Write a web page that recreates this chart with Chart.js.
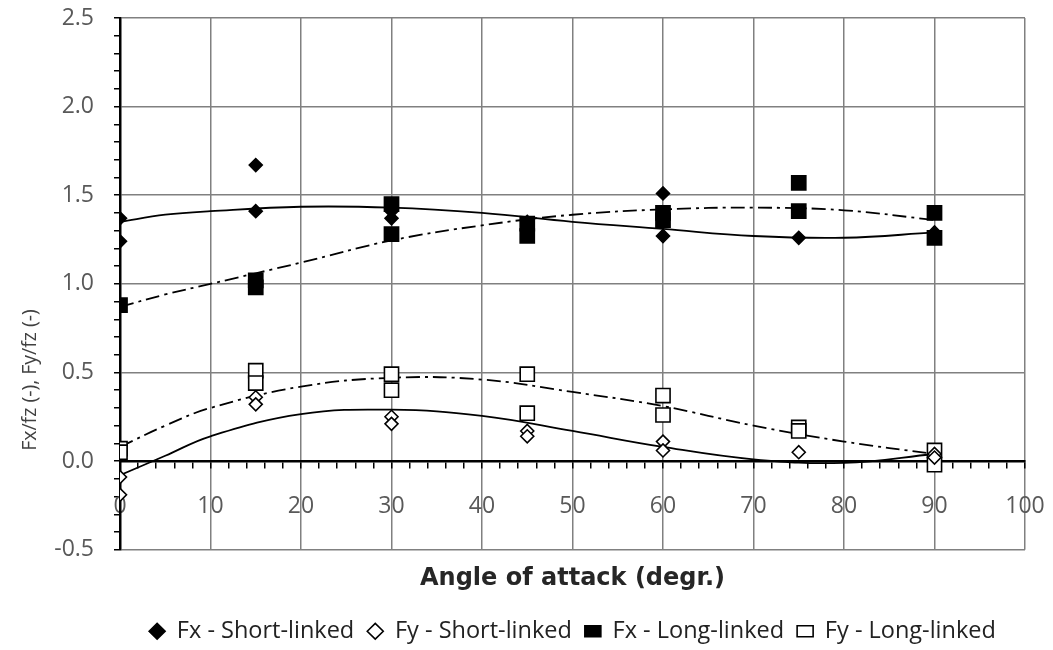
<!DOCTYPE html>
<html>
<head>
<meta charset="utf-8">
<script src="https://cdn.jsdelivr.net/npm/chart.js@4/dist/chart.umd.min.js"></script>
<style>
  html, body { margin: 0; padding: 0; background: #fff; }
  #wrap { width: 1053px; height: 650px; }
</style>
</head>
<body>
<div id="wrap"><canvas id="forceChart" width="1053" height="650"></canvas></div>
<script>
/* ── Measured points (two runs per angle) ── */
const fxShortX = [0, 0, 15, 15, 30, 30, 45, 45, 60, 60, 75, 90, 90];
const fxShortY = [1.37, 1.24, 1.67, 1.41, 1.41, 1.37, 1.35, 1.31, 1.51, 1.27, 1.26, 1.29, 1.27];

const fyShortX = [0, 0, 15, 15, 30, 30, 45, 45, 60, 60, 75, 90, 90];
const fyShortY = [-0.09, -0.19, 0.36, 0.32, 0.25, 0.21, 0.17, 0.14, 0.11, 0.06, 0.05, 0.04, 0.02];

const fxLongX = [0, 15, 15, 30, 30, 45, 45, 60, 60, 75, 75, 90, 90];
const fxLongY = [0.88, 1.02, 0.98, 1.45, 1.28, 1.34, 1.27, 1.40, 1.36, 1.57, 1.41, 1.40, 1.26];

const fyLongX = [0, 0, 15, 15, 30, 30, 45, 45, 60, 60, 75, 75, 90, 90];
const fyLongY = [0.07, 0.05, 0.51, 0.44, 0.49, 0.40, 0.49, 0.27, 0.37, 0.26, 0.19, 0.17, 0.06, -0.02];

/* ── Trend lines ── */
const trendX       = [0, 5, 10, 20, 30, 40, 50, 60, 70, 80, 90];
const fxShortTrend = [1.35, 1.39, 1.41, 1.435, 1.43, 1.40, 1.35, 1.31, 1.27, 1.26, 1.29];
const fxLongTrend  = [0.87, 0.94, 1.00, 1.12, 1.245, 1.33, 1.39, 1.42, 1.43, 1.415, 1.36];
const fyShortTrend = [-0.08, 0.03, 0.14, 0.265, 0.29, 0.255, 0.17, 0.08, 0.01, -0.01, 0.04];
const fyLongTrend  = [0.08, 0.20, 0.30, 0.42, 0.47, 0.46, 0.39, 0.31, 0.20, 0.11, 0.04];

const seriesLabels = ['Fx - Short-linked', 'Fy - Short-linked', 'Fx - Long-linked', 'Fy - Long-linked'];
const xTitle = 'Angle of attack (degr.)';
const yTitle = 'Fx/fz (-), Fy/fz (-)';

const FONT = '"Open Sans", Lato, sans-serif';
const TITLE_FONT = '"DejaVu Sans", "Open Sans", sans-serif';
const GRID = '#808080';
const TICK_TEXT = '#595959';

const pts = (xs, ys) => xs.map((x, i) => ({ x, y: ys[i] }));
const isMultiple = (v, step) => Math.abs(v / step - Math.round(v / step)) < 1e-6;

function markerSet(label, xs, ys, style, filled, radius) {
  return {
    label,
    data: pts(xs, ys),
    showLine: false,
    pointStyle: style,
    pointRadius: radius,
    pointHoverRadius: radius,
    pointBorderWidth: 1.6,
    borderColor: '#000',
    backgroundColor: filled ? '#000' : '#fff',
    pointBackgroundColor: filled ? '#000' : '#fff',
    pointBorderColor: '#000',
  };
}

function trendSet(ys, dash) {
  return {
    label: '_trend',
    data: pts(trendX, ys),
    showLine: true,
    borderColor: '#000',
    borderWidth: 1.8,
    borderDash: dash,
    pointRadius: 0,
    pointHoverRadius: 0,
    tension: 0.4,
    fill: false,
  };
}

const datasets = [
  markerSet(seriesLabels[0], fxShortX, fxShortY, 'rectRot', true, 6.5),
  markerSet(seriesLabels[1], fyShortX, fyShortY, 'rectRot', false, 6.5),
  markerSet(seriesLabels[2], fxLongX, fxLongY, 'rect', true, 10),
  markerSet(seriesLabels[3], fyLongX, fyLongY, 'rect', false, 10),
  trendSet(fxShortTrend, []),
  trendSet(fyShortTrend, []),
  trendSet(fxLongTrend, [14, 5, 3, 5]),
  trendSet(fyLongTrend, [14, 5, 3, 5]),
];

// y-axis title sits below the middle of the axis in the original, so draw it by hand
const yTitlePlugin = {
  id: 'yTitle',
  afterDraw(chart) {
    const { ctx } = chart;
    ctx.save();
    ctx.translate(30, 380);
    ctx.rotate(-Math.PI / 2);
    ctx.font = '19.5px ' + FONT;
    ctx.fillStyle = '#404040';
    ctx.textAlign = 'center';
    ctx.textBaseline = 'middle';
    ctx.fillText(yTitle, 0, 0);
    ctx.restore();
  },
};

const noPad = s => { s.paddingTop = 0; s.paddingBottom = 0; s.paddingLeft = 0; s.paddingRight = 0; };

const forceChart = new Chart(document.getElementById('forceChart').getContext('2d'), {
  type: 'scatter',
  data: { datasets },
  plugins: [yTitlePlugin],
  options: {
    responsive: false,
    animation: false,
    layout: { autoPadding: false, padding: { left: 16, right: 28, top: 18, bottom: -3 } },
    plugins: {
      tooltip: { enabled: false },
      legend: {
        position: 'bottom',
        fullSize: false,
        labels: {
          usePointStyle: true,
          pointStyleWidth: 16,
          boxHeight: 11,
          padding: 13,
          color: '#222',
          font: { family: FONT, size: 23.5 },
          filter: item => item.datasetIndex < 4,
        },
      },
    },
    scales: {
      x: {
        type: 'linear',
        position: { y: 0 },
        min: 0, max: 100,
        afterFit: noPad,
        ticks: {
          stepSize: 2,
          autoSkip: false,
          maxRotation: 0,
          padding: 26,
          color: TICK_TEXT,
          font: { family: FONT, size: 23 },
          callback: v => isMultiple(v, 10) ? String(v) : '',
        },
        grid: {
          color: c => isMultiple(c.tick.value, 10) ? GRID : 'rgba(0,0,0,0)',
          lineWidth: 1.5,
          tickColor: '#000',
          tickLength: 6,
        },
        border: { color: '#000', width: 2.5 },
      },
      xLabel: {
        type: 'linear',
        axis: 'x',
        position: 'bottom',
        min: 0, max: 100,
        afterFit: noPad,
        ticks: { display: false },
        grid: { display: false, drawTicks: false },
        border: { display: false },
        title: {
          display: true,
          text: xTitle,
          color: '#262626',
          font: { family: TITLE_FONT, size: 24, weight: 'bold' },
          padding: { top: 15, bottom: 13 },
        },
      },
      y: {
        type: 'linear',
        min: -0.5, max: 2.5,
        afterFit: s => { noPad(s); s.width = 104; },
        ticks: {
          stepSize: 0.1,
          autoSkip: false,
          padding: 20,
          color: TICK_TEXT,
          font: { family: FONT, size: 23 },
          callback: v => isMultiple(v, 0.5) ? v.toFixed(1) : '',
        },
        grid: {
          color: c => isMultiple(c.tick.value, 0.5) ? GRID : 'rgba(0,0,0,0)',
          lineWidth: 1.5,
          tickColor: '#000',
          tickLength: 6,
        },
        border: { color: '#000', width: 2.5 },
      },
    },
  },
});
</script>
</body>
</html>
